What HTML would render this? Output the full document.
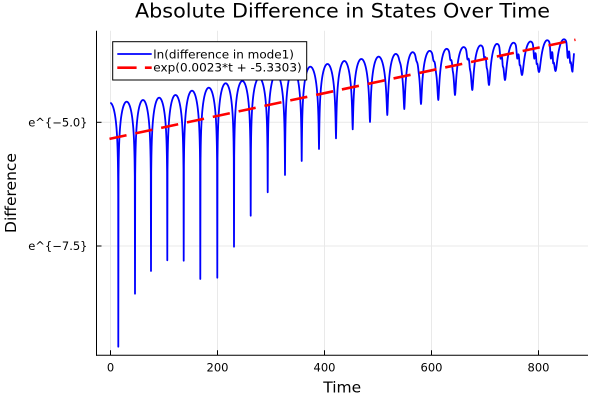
<!DOCTYPE html>
<html>
<head>
<meta charset="utf-8">
<style>
html,body{margin:0;padding:0;background:#fff;}
svg{display:block;}
text{font-family:"DejaVu Sans","Liberation Sans",sans-serif;fill:#000;}
</style>
</head>
<body>
<svg id="chart" width="600" height="400" viewBox="0 0 600 400" xmlns="http://www.w3.org/2000/svg">
<rect x="0" y="0" width="600" height="400" fill="#fff"/>
<!-- grid -->
<g stroke="#e9e9e9" stroke-width="1">
<line x1="110.5" y1="30.7" x2="110.5" y2="355.3"/>
<line x1="217.5" y1="30.7" x2="217.5" y2="355.3"/>
<line x1="324.5" y1="30.7" x2="324.5" y2="355.3"/>
<line x1="431.5" y1="30.7" x2="431.5" y2="355.3"/>
<line x1="538.5" y1="30.7" x2="538.5" y2="355.3"/>
<line x1="96.5" y1="122.3" x2="588" y2="122.3"/>
<line x1="96.5" y1="246" x2="588" y2="246"/>
</g>
<!-- blue series -->
<path id="blue" d="" fill="none" stroke="#0000ff" stroke-width="1.8" stroke-linejoin="round"/>
<!-- red fit -->
<line x1="109.5" y1="138.86" x2="575.5" y2="39.74" stroke="#ff0000" stroke-width="2.6" stroke-dasharray="17.4 9.0"/>
<!-- axes -->
<g stroke="#000" stroke-width="1">
<line x1="96.5" y1="30.7" x2="96.5" y2="355.8"/>
<line x1="96" y1="355.3" x2="588" y2="355.3"/>
<line x1="96.5" y1="122.3" x2="101.5" y2="122.3"/>
<line x1="96.5" y1="246" x2="101.5" y2="246"/>
<line x1="110.5" y1="355.3" x2="110.5" y2="350.3"/>
<line x1="217.5" y1="355.3" x2="217.5" y2="350.3"/>
<line x1="324.5" y1="355.3" x2="324.5" y2="350.3"/>
<line x1="431.5" y1="355.3" x2="431.5" y2="350.3"/>
<line x1="538.5" y1="355.3" x2="538.5" y2="350.3"/>
</g>
<!-- tick labels -->
<g font-size="11.5">
<text x="87.5" y="126.3" text-anchor="end">e^{−5.0}</text>
<text x="87.5" y="250" text-anchor="end">e^{−7.5}</text>
<text x="110.5" y="371.7" text-anchor="middle">0</text>
<text x="217.5" y="371.7" text-anchor="middle">200</text>
<text x="324.5" y="371.7" text-anchor="middle">400</text>
<text x="431.5" y="371.7" text-anchor="middle">600</text>
<text x="538.5" y="371.7" text-anchor="middle">800</text>
</g>
<!-- axis labels -->
<text x="342.2" y="392.7" font-size="15.5" text-anchor="middle">Time</text>
<text transform="translate(16,193) rotate(-90)" x="0" y="0" font-size="15.5" text-anchor="middle">Difference</text>
<!-- title -->
<text x="342.5" y="17.5" font-size="19.5" text-anchor="middle" textLength="415" lengthAdjust="spacingAndGlyphs">Absolute Difference in States Over Time</text>
<!-- legend -->
<rect x="112.7" y="41.7" width="194" height="38.3" fill="#fff" stroke="#000" stroke-width="1"/>
<line x1="117.3" y1="54" x2="151.7" y2="54" stroke="#0000ff" stroke-width="1.8"/>
<line x1="117.3" y1="67.7" x2="151.7" y2="67.7" stroke="#ff0000" stroke-width="2.6" stroke-dasharray="19.3 8.3"/>
<text x="153.3" y="58.3" font-size="11.5" textLength="140.7" lengthAdjust="spacingAndGlyphs">ln(difference in mode1)</text>
<text x="153.3" y="71.7" font-size="11.5" textLength="148.4" lengthAdjust="spacingAndGlyphs">exp(0.0023*t + -5.3303)</text>
</svg>
<script>
(function(){
  var xT=[118.3,135,151,167.3,183.7,200.3,217.3,234,250.7,267.7,285,301.7,319,336,352.7,370,387.3,404.3,421,438.3,455,472.3,489,505,522,539,555.5,572.5];
  var yT=[346.7,293.7,271,260.3,260.7,279,277.7,246.7,215.7,192.3,175,161,149,138.3,129.3,122,115,109,104,100,95,90,85,80,75,72,71,71.7];
  var yP=[102.7,101.7,100,97.7,95,90.7,87.7,83.3,81,78,74,70,66.7,64,61,59,56.7,54,52.3,51,49,47.3,45.7,44.3,43.3,42.3,41,40];
  var c=23, pts=[];
  function seg(xa,ya,xb,yb,yp,u0,u1){
    var da=Math.exp(-(ya-yp)/c), db=Math.exp(-(yb-yp)/c);
    var xm=(xa+xb)/2;
    var A=Math.max(0,Math.min(1,(xm-380)/170))*13;
    var N=80;
    for(var i=0;i<=N;i++){
      var u=u0+(u1-u0)*i/N;
      var s=Math.sin(Math.PI*u);
      var d=da*(1-u)+db*u;
      var y=yp-c*0.5*Math.log(s*s+d*d);
      y+=A*Math.exp(-Math.pow((u-0.72)/0.05,2));
      y+=A*0.5*Math.exp(-Math.pow((u-0.86)/0.03,2));
      var x=xa+(xb-xa)*u;
      if(pts.length && i===0) continue;
      pts.push(x.toFixed(2)+","+y.toFixed(2));
    }
  }
  // first partial cycle
  var xa0=xT[0]-16.7;
  seg(xa0,yT[0],xT[0],yT[0],yP[0],(110.3-xa0)/16.7,1);
  for(var k=1;k<xT.length;k++){
    seg(xT[k-1],yT[k-1],xT[k],yT[k],yP[k],0,1);
  }
  pts.push("574,53.3");
  document.getElementById("blue").setAttribute("d","M"+pts.join(" L"));
})();
</script>
</body>
</html>
